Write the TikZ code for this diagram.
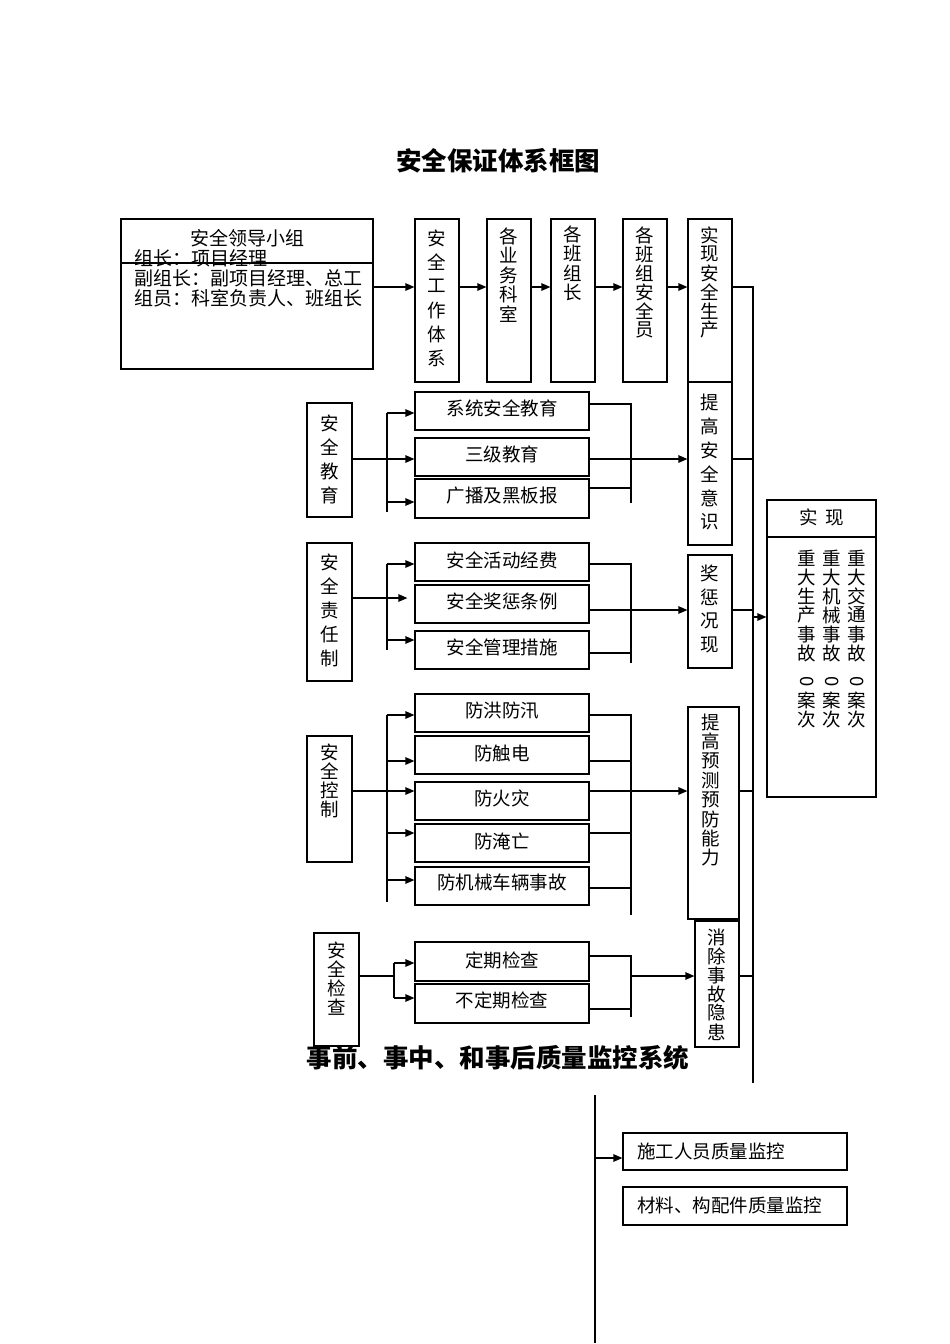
\documentclass[tikz,border=0pt]{standalone}
\usepackage{fontspec}
\newfontfamily\cjk{Noto Sans CJK SC}
\usetikzlibrary{arrows.meta,fit}
\newcommand\mkbox[5]{\node[box, fit={(#2,#3) (#4,#5)}] (#1) {};}
\newcommand\vtx[5]{\foreach \c [count=\i from 0] in {#5} {\node[txt] (#1-\i) at (#2,{#3+\i*#4}) {\c};}}
\begin{document}
\begin{tikzpicture}[x=1pt,y=-1pt,
  box/.style={draw, line width=1.2pt, inner sep=0pt},
  ln/.style={line width=1.2pt},
  arr/.style={line width=1.2pt, -{Triangle[length=9pt,width=7.5pt]}},
  txt/.style={inner sep=0pt, font=\cjk\fontsize{18.5}{22}\selectfont},
  ltxt/.style={inner sep=0pt, font=\cjk\fontsize{19}{22}\selectfont},
  ttl/.style={inner sep=0pt, font=\cjk\bfseries\fontsize{25.5}{30}\selectfont}]
\useasboundingbox (0,0) rectangle (950,1344);

% titles
\node[ttl] (title) at (498,161) {安全保证体系框图};
\node[ttl] (title2) at (498,1058) {事前、事中、和事后质量监控系统};

% leader box
\mkbox{lead}{121}{219}{373}{369}
\draw[ln] (lead.west |- 0,263) -- (lead.east |- 0,263);
\node[ltxt] (lt) at (247,238) {安全领导小组};
\node[ltxt, anchor=west] (l1) at (134,258) {组长：项目经理};
\node[ltxt, anchor=west] (l2) at (134,278) {副组长：副项目经理、总工};
\node[ltxt, anchor=west] (l3) at (134,298) {组员：科室负责人、班组长};

% top row
\mkbox{b1}{415}{219}{459}{382} \vtx{b1t}{437}{238}{24}{安,全,工,作,体,系}
\mkbox{b2}{487}{219}{531}{382} \vtx{b2t}{509}{236}{19.5}{各,业,务,科,室}
\mkbox{b3}{551}{219}{595}{382} \vtx{b3t}{573}{234}{19.5}{各,班,组,长}
\mkbox{b4}{623}{219}{667}{382} \vtx{b4t}{645}{235}{19}{各,班,组,安,全,员}
\mkbox{b5}{688}{219}{732}{382} \vtx{b5t}{710}{235}{19}{实,现,安,全,生,产}
\draw[arr] (lead.east |- 0,287) -- (b1.west |- 0,287);
\draw[arr] (b1.east |- 0,287) -- (b2.west |- 0,287);
\draw[arr] (b2.east |- 0,287) -- (b3.west |- 0,287);
\draw[arr] (b3.east |- 0,287) -- (b4.west |- 0,287);
\draw[arr] (b4.east |- 0,287) -- (b5.west |- 0,287);

% bus
\coordinate (busT) at (753,287);
\coordinate (busB) at (753,1083);
\draw[ln] (b5.east |- busT) -- (busT) -- (busB);

% education
\mkbox{b6}{688}{382}{732}{545} \vtx{b6t}{710}{402}{24}{提,高,安,全,意,识}
\mkbox{e0}{307}{403}{352}{517} \vtx{e0t}{329.5}{423}{24}{安,全,教,育}
\mkbox{e1}{415}{392}{589}{430} \node[txt] (e1t) at (502,408) {系统安全教育};
\mkbox{e2}{415}{438}{589}{476} \node[txt] (e2t) at (502,454) {三级教育};
\mkbox{e3}{415}{479}{589}{518} \node[txt] (e3t) at (502,496) {广播及黑板报};
\coordinate (eA) at (387,413); \coordinate (eB) at (387,512);
\draw[ln] (eA) -- (eB);
\draw[arr] (eA) -- (e1.west |- eA);
\draw[arr] (e0.east |- 0,459) -- (e2.west |- 0,459);
\draw[arr] (eA |- 0,502) -- (e3.west |- 0,502);
\coordinate (eC) at (631,404); \coordinate (eD) at (631,503);
\draw[ln] (e1.east |- eC) -- (eC) -- (eD);
\draw[ln] (e3.east |- 0,488) -- (eC |- 0,488);
\draw[arr] (e2.east |- 0,459) -- (b6.west |- 0,459);
\draw[ln] (b6.east |- 0,459) -- (busT |- 0,459);

% responsibility
\mkbox{b7}{688}{555}{732}{668} \vtx{b7t}{710}{573}{24}{奖,惩,况,现}
\mkbox{r0}{307}{543}{352}{681} \vtx{r0t}{329.5}{562}{24}{安,全,责,任,制}
\mkbox{r1}{415}{543}{589}{581} \node[txt] (r1t) at (502,560) {安全活动经费};
\mkbox{r2}{415}{585}{589}{623} \node[txt] (r2t) at (502,601) {安全奖惩条例};
\mkbox{r3}{415}{631}{589}{669} \node[txt] (r3t) at (502,647) {安全管理措施};
\coordinate (rA) at (387,564); \coordinate (rB) at (387,650);
\draw[ln] (rA) -- (rB);
\draw[arr] (rA) -- (r1.west |- rA);
\draw[arr, shorten >=7pt] (r0.east |- 0,598) -- (r2.west |- 0,598);
\draw[arr] (rA |- 0,640) -- (r3.west |- 0,640);
\coordinate (rC) at (631,564); \coordinate (rD) at (631,663);
\draw[ln] (r1.east |- rC) -- (rC) -- (rD);
\draw[ln] (r3.east |- 0,653) -- (rC |- 0,653);
\draw[arr] (r2.east |- 0,610) -- (b7.west |- 0,610);
\draw[ln] (b7.east |- 0,610) -- (busT |- 0,610);

% control
\mkbox{b8}{688}{707}{739}{919} \vtx{b8t}{711}{722}{19.4}{提,高,预,测,预,防,能,力}
\mkbox{c0}{307}{736}{352}{862} \vtx{c0t}{329.5}{752}{19}{安,全,控,制}
\mkbox{c1}{415}{694}{589}{732} \node[txt] (c1t) at (502,711) {防洪防汛};
\mkbox{c2}{415}{736}{589}{774} \node[txt] (c2t) at (502,753) {防触电};
\mkbox{c3}{415}{782}{589}{820} \node[txt] (c3t) at (502,798) {防火灾};
\mkbox{c4}{415}{824}{589}{862} \node[txt] (c4t) at (502,841) {防淹亡};
\mkbox{c5}{415}{867}{589}{905} \node[txt] (c5t) at (502,882) {防机械车辆事故};
\coordinate (cA) at (387,715); \coordinate (cB) at (387,902);
\draw[ln] (cA) -- (cB);
\draw[arr] (cA) -- (c1.west |- cA);
\draw[arr] (cA |- 0,761) -- (c2.west |- 0,761);
\draw[arr] (c0.east |- 0,791) -- (c3.west |- 0,791);
\draw[arr] (cA |- 0,833) -- (c4.west |- 0,833);
\draw[arr] (cA |- 0,880) -- (c5.west |- 0,880);
\coordinate (cC) at (631,715); \coordinate (cD) at (631,915);
\draw[ln] (c1.east |- cC) -- (cC) -- (cD);
\draw[ln] (c2.east |- 0,761) -- (cC |- 0,761);
\draw[ln] (c4.east |- 0,833) -- (cC |- 0,833);
\draw[ln] (c5.east |- 0,888) -- (cC |- 0,888);
\draw[arr] (c3.east |- 0,791) -- (b8.west |- 0,791);
\draw[ln] (b8.east |- 0,791) -- (busT |- 0,791);

% inspection
\mkbox{b9}{695}{921}{739}{1047} \vtx{b9t}{717}{937}{19}{消,除,事,故,隐,患}
\mkbox{k0}{314}{933}{359}{1046} \vtx{k0t}{336.5}{950}{19}{安,全,检,查}
\mkbox{k1}{415}{942}{589}{981} \node[txt] (k1t) at (502,960) {定期检查};
\mkbox{k2}{415}{984}{589}{1023} \node[txt] (k2t) at (502,1000) {不定期检查};
\coordinate (kA) at (394,963); \coordinate (kB) at (394,998);
\draw[ln] (k0.east |- 0,976) -- (kA |- 0,976);
\draw[ln] (kA) -- (kB);
\draw[arr] (kA) -- (k1.west |- kA);
\draw[arr] (kB) -- (k2.west |- kB);
\coordinate (kC) at (631,956); \coordinate (kD) at (631,1017);
\draw[ln] (k1.east |- kC) -- (kC) -- (kD);
\draw[ln] (k2.east |- 0,1009) -- (kC |- 0,1009);
\draw[arr] (kC |- 0,976) -- (b9.west |- 0,976);
\draw[ln] (b9.east |- 0,976) -- (busT |- 0,976);

% result box
\mkbox{R}{767}{500}{876}{797}
\draw[ln] (R.west |- 0,537) -- (R.east |- 0,537);
\node[txt] (Rh) at (821.5,517) {实\hspace{8pt}现};
\vtx{Rc1}{807}{558}{19}{重,大,生,产,事,故}
\vtx{Rc2}{832}{558}{19}{重,大,机,械,事,故}
\vtx{Rc3}{857}{558}{19}{重,大,交,通,事,故}
\node[txt, rotate=-90] (Rz1) at (807,682) {0};
\node[txt, rotate=-90] (Rz2) at (832,682) {0};
\node[txt, rotate=-90] (Rz3) at (857,682) {0};
\vtx{Rd1}{807}{700}{19}{案,次}
\vtx{Rd2}{832}{700}{19}{案,次}
\vtx{Rd3}{857}{700}{19}{案,次}
\draw[arr] (busT |- 0,617) -- (R.west |- 0,617);

% quality monitoring
\coordinate (qT) at (595,1095); \coordinate (qB) at (595,1343);
\draw[ln] (qT) -- (qB);
\mkbox{q1}{623}{1133}{847}{1170} \node[txt, anchor=west] (q1t) at (637,1151) {施工人员质量监控};
\mkbox{q2}{623}{1187}{847}{1225} \node[txt, anchor=west] (q2t) at (637,1205) {材料、构配件质量监控};
\draw[arr] (qT |- 0,1158) -- (q1.west |- 0,1158);
\end{tikzpicture}
\end{document}
